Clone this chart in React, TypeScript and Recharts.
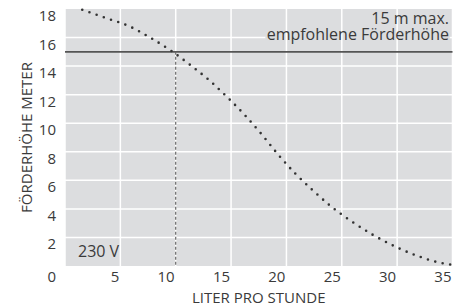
import {
  LineChart, Line, XAxis, YAxis, CartesianGrid, ReferenceLine, Label,
} from "recharts";

document.body.style.margin = "0";

// pump curve
const flow = [1.56, 3.7, 5.81, 7.71, 9.58, 11.36, 13.07, 14.7, 16.24, 17.84, 19.25, 20.78, 22.38, 24.1, 25.94, 27.84, 29.86, 31.94, 34.11, 34.95];
const head = [17.95, 17.37, 16.79, 15.99, 15.08, 14.05, 12.98, 11.79, 10.57, 9.15, 7.81, 6.49, 5.3, 4.13, 3.1, 2.17, 1.35, 0.68, 0.19, 0.09];

const xTicks = [0, 5, 10, 15, 20, 25, 30, 35];
const yTicks = [0, 2, 4, 6, 8, 10, 12, 14, 16, 18];

const maxHead = 15;
const flowAtMax = 10;
const noteGap = [18.1, 34.75]; // where the 16 m grid line is hidden behind the note

const data = flow.map((f, i) => ({ flow: f, head: head[i] }));

const FONT = "'Open Sans', 'Noto Sans', sans-serif";
const TEXT = "#3a3a3a";
const BG = "#dcdddf";

const XTick = ({ x, y, payload }: any) => {
  if (payload.value === 0) return <g />;
  return (
    <text x={x - 1} y={y + 16} textAnchor="end" fill={TEXT} fontSize={15} fontFamily={FONT}>
      {payload.value}
    </text>
  );
};

const YTick = ({ x, y, payload }: any) => (
  <text x={x - 9} y={y + (payload.value === 0 ? 15.5 : 12)} textAnchor="end" fill={TEXT} fontSize={15} fontFamily={FONT}>
    {payload.value}
  </text>
);

const YTitle = ({ viewBox }: any) => {
  const cx = viewBox.x + 31.5;
  const cy = viewBox.y + viewBox.height / 2;
  return (
    <text x={cx} y={cy} transform={`rotate(-90, ${cx}, ${cy})`} textAnchor="middle" fill={TEXT} fontSize={15} fontFamily={FONT}>
      FÖRDERHÖHE METER
    </text>
  );
};

const MaxNote = ({ viewBox }: any) => {
  const rx = viewBox.x + viewBox.width - 3.5;
  return (
    <g fill={TEXT} fontSize={16} fontFamily={FONT}>
      <text x={rx} y={viewBox.y - 27.5} textAnchor="end">15 m max.</text>
      <text x={rx} y={viewBox.y - 11.8} textAnchor="end">empfohlene Förderhöhe</text>
    </g>
  );
};

const VoltNote = ({ viewBox }: any) => (
  <text x={viewBox.x + 13} y={viewBox.y - 9.3} fill={TEXT} fontSize={16} fontFamily={FONT}>
    230 V
  </text>
);

export default function App() {
  return (
    <LineChart width={467} height={306} data={data} margin={{ top: 9, right: 14.5, bottom: 0, left: 0 }}>
      <CartesianGrid horizontal={false} stroke="#fff" strokeWidth={1.5} fill={BG} fillOpacity={1} />
      {yTicks.filter((v) => v > 0 && v < 18 && v !== 16).map((v) => (
        <ReferenceLine key={v} y={v} stroke="#fff" strokeWidth={1.5} />
      ))}
      <ReferenceLine segment={[{ x: 0, y: 16 }, { x: noteGap[0], y: 16 }]} stroke="#fff" strokeWidth={1.5} />
      <ReferenceLine segment={[{ x: noteGap[1], y: 16 }, { x: 35, y: 16 }]} stroke="#fff" strokeWidth={1.5} />
      <XAxis
        type="number"
        dataKey="flow"
        domain={[0, 35]}
        ticks={xTicks}
        axisLine={false}
        tickLine={false}
        tickSize={0}
        tickMargin={0}
        height={40}
        tick={<XTick />}
      >
        <Label value="LITER PRO STUNDE" position="insideBottom" offset={3} fill={TEXT} fontSize={15} fontFamily={FONT} />
      </XAxis>
      <YAxis
        type="number"
        domain={[0, 18]}
        ticks={yTicks}
        axisLine={false}
        tickLine={false}
        tickSize={0}
        tickMargin={0}
        width={65}
        tick={<YTick />}
      >
        <Label content={<YTitle />} />
      </YAxis>
      <ReferenceLine y={0} stroke="none" label={<VoltNote />} />
      <ReferenceLine y={maxHead} stroke="#555" strokeWidth={1.8} label={<MaxNote />} />
      <ReferenceLine
        segment={[{ x: flowAtMax, y: maxHead }, { x: flowAtMax, y: 0 }]}
        stroke="#666"
        strokeWidth={1.2}
        strokeDasharray="3 2"
      />
      <Line
        type="monotone"
        dataKey="head"
        stroke="#333"
        strokeWidth={2.6}
        strokeDasharray="0 7.6"
        strokeLinecap="round"
        dot={false}
        activeDot={false}
        isAnimationActive={false}
      />
    </LineChart>
  );
}
